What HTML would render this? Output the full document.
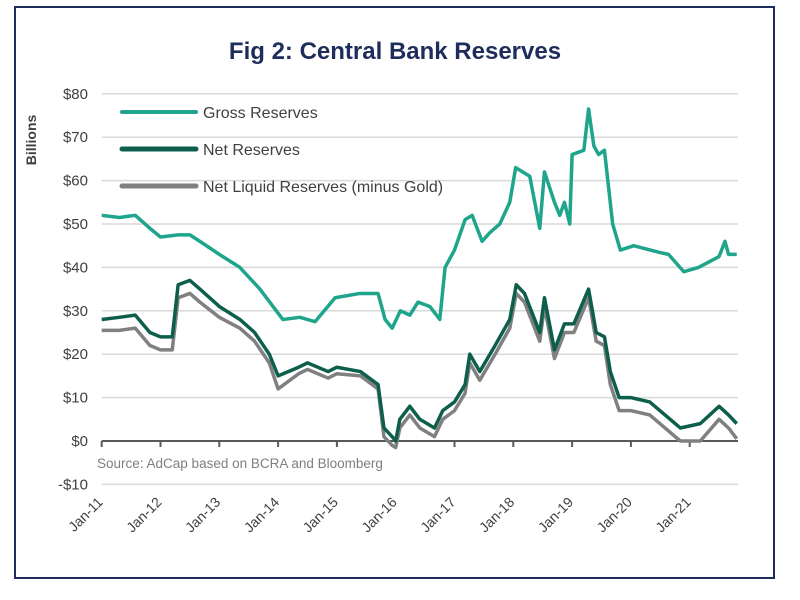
<!DOCTYPE html>
<html><head><meta charset="utf-8"><style>
body{margin:0;background:#fff;width:800px;height:600px;overflow:hidden;font-family:"Liberation Sans",sans-serif}
#frame{position:absolute;left:14px;top:6px;width:757px;height:569px;border:2.5px solid #1f2d5c;box-sizing:content-box}
</style></head><body>
<div id="frame"></div>
<svg id="c" width="800" height="600" style="position:absolute;left:0;top:0">
<text x="395" y="59" text-anchor="middle" font-size="24" font-weight="bold" fill="#1f2d5c">Fig 2: Central Bank Reserves</text>
<text transform="translate(36,140) rotate(-90)" text-anchor="middle" font-size="14" font-weight="bold" fill="#404040">Billions</text>
<g id="grid"></g><g id="yt"></g><g id="xt"></g><g id="series"></g>
<text x="97" y="468" font-size="13.5" fill="#7f7f7f">Source: AdCap based on BCRA and Bloomberg</text>
<g>
<line x1="122" y1="112" x2="196" y2="112" stroke="#1fa58c" stroke-width="4" stroke-linecap="round"/>
<text x="203" y="118" font-size="16" fill="#404040">Gross Reserves</text>
<line x1="122" y1="149" x2="196" y2="149" stroke="#0e5e4c" stroke-width="5" stroke-linecap="round"/>
<text x="203" y="155" font-size="16" fill="#404040">Net Reserves</text>
<line x1="122" y1="186" x2="196" y2="186" stroke="#808080" stroke-width="5" stroke-linecap="round"/>
<text x="203" y="192" font-size="16" fill="#404040">Net Liquid Reserves (minus Gold)</text>
</g>
</svg>
<script>
const yTicks=[80,70,60,50,40,30,20,10,0,-10];
const yLabels=["$80","$70","$60","$50","$40","$30","$20","$10","$0","-$10"];
const xTicks=[2011,2012,2013,2014,2015,2016,2017,2018,2019,2020,2021];
const xLabels=["Jan-11","Jan-12","Jan-13","Jan-14","Jan-15","Jan-16","Jan-17","Jan-18","Jan-19","Jan-20","Jan-21"];
const grossDates=[2011.0,2011.3,2011.57,2011.82,2012.0,2012.3,2012.5,2012.67,2013.0,2013.35,2013.69,2014.08,2014.37,2014.63,2014.97,2015.39,2015.7,2015.82,2015.94,2016.08,2016.24,2016.38,2016.58,2016.75,2016.84,2017.0,2017.18,2017.3,2017.47,2017.6,2017.77,2017.94,2018.04,2018.28,2018.45,2018.53,2018.7,2018.79,2018.87,2018.96,2019.0,2019.2,2019.28,2019.37,2019.45,2019.55,2019.69,2019.82,2020.05,2020.47,2020.64,2020.9,2021.15,2021.5,2021.6,2021.66,2021.8];
const grossVals=[52,51.5,52,49,47,47.5,47.5,46,43,40,35,28,28.5,27.5,33,34,34,28,26,30,29,32,31,28,40,44,51,52,46,48,50,55,63,61,49,62,55,52,55,50,66,67,76.5,68,66,67,50,44,45,43.5,43,39,40,42.5,46,43,43];
const netDates=[2011.0,2011.3,2011.57,2011.82,2012.0,2012.2,2012.3,2012.5,2012.67,2013.0,2013.35,2013.6,2013.85,2014.0,2014.35,2014.5,2014.85,2015.0,2015.4,2015.7,2015.8,2015.94,2016.0,2016.07,2016.24,2016.41,2016.66,2016.8,2017.0,2017.18,2017.26,2017.43,2017.69,2017.94,2018.05,2018.19,2018.45,2018.53,2018.7,2018.87,2019.03,2019.28,2019.41,2019.55,2019.65,2019.8,2020.0,2020.32,2020.58,2020.84,2021.18,2021.5,2021.66,2021.8];
const netVals=[28,28.5,29,25,24,24,36,37,35,31,28,25,20,15,17,18,16,17,16,13,3,1,0,5,8,5,3,7,9,13,20,16,22,28,36,34,25,33,21,27,27,35,25,24,16,10,10,9,6,3,4,8,6,4];
const liqDates=[2011.0,2011.3,2011.57,2011.82,2012.0,2012.2,2012.3,2012.5,2012.67,2013.0,2013.35,2013.6,2013.85,2014.0,2014.35,2014.5,2014.85,2015.0,2015.4,2015.7,2015.8,2015.94,2016.0,2016.07,2016.24,2016.41,2016.66,2016.8,2017.0,2017.18,2017.26,2017.43,2017.69,2017.94,2018.05,2018.19,2018.45,2018.53,2018.7,2018.87,2019.03,2019.28,2019.41,2019.55,2019.65,2019.8,2020.0,2020.32,2020.58,2020.84,2021.18,2021.5,2021.66,2021.8];
const liqVals=[25.5,25.5,26,22,21,21,33,34,32,28.5,26,23,18,12,15.5,16.5,14.5,15.5,15,12,1,-1,-1.5,3,6,3,1,5,7,11,18,14,20,26,34,32,23,31,19,25,25,33,23,22,13,7,7,6,3,0,0,5,3,0.5];
const NS="http://www.w3.org/2000/svg";
const X0=101.7,PXY=58.8,Y0=441,PXV=4.34,XR=738;
const xs=d=>X0+(d-2011)*PXY, ys=v=>Y0-v*PXV;
function mk(t,a,p){const e=document.createElementNS(NS,t);for(const k in a)e.setAttribute(k,a[k]);p.appendChild(e);return e;}
const grid=document.getElementById('grid'),yt=document.getElementById('yt'),xt=document.getElementById('xt'),ser=document.getElementById('series');
yTicks.forEach((v,i)=>{
 if(v!==0){const l=mk('line',{x1:X0,x2:XR,y1:ys(v),y2:ys(v),stroke:'#d9d9d9','stroke-width':1.5},grid);
 
 }
 const t=mk('text',{x:88,y:ys(v)+5,'text-anchor':'end','font-size':15,fill:'#404040'},yt);t.textContent=yLabels[i];
 
 
});
const ax=mk('line',{x1:X0,x2:XR,y1:Y0,y2:Y0,stroke:'#595959','stroke-width':2},xt);


xTicks.forEach((d,i)=>{
 const x=xs(d);
 const tk=mk('line',{x1:x,x2:x,y1:Y0,y2:Y0+6,stroke:'#595959','stroke-width':2},xt);
 
 
 const t=mk('text',{transform:`translate(${x+2},${503}) rotate(-45)`,'text-anchor':'end','font-size':14,fill:'#404040'},xt);t.textContent=xLabels[i];
 
 
});
function line(ds,vs,col,w,name){
 const p=mk('polyline',{points:ds.map((d,i)=>xs(d)+','+ys(vs[i])).join(' '),fill:'none',stroke:col,'stroke-width':w,'stroke-linejoin':'round'},ser);
 
 
}
line(grossDates,grossVals,'#1fa58c',3.5,'gross-reserves-line');
line(liqDates,liqVals,'#808080',3.5,'net-liquid-reserves-line');
line(netDates,netVals,'#0e5e4c',3.5,'net-reserves-line');
</script>
</body></html>
